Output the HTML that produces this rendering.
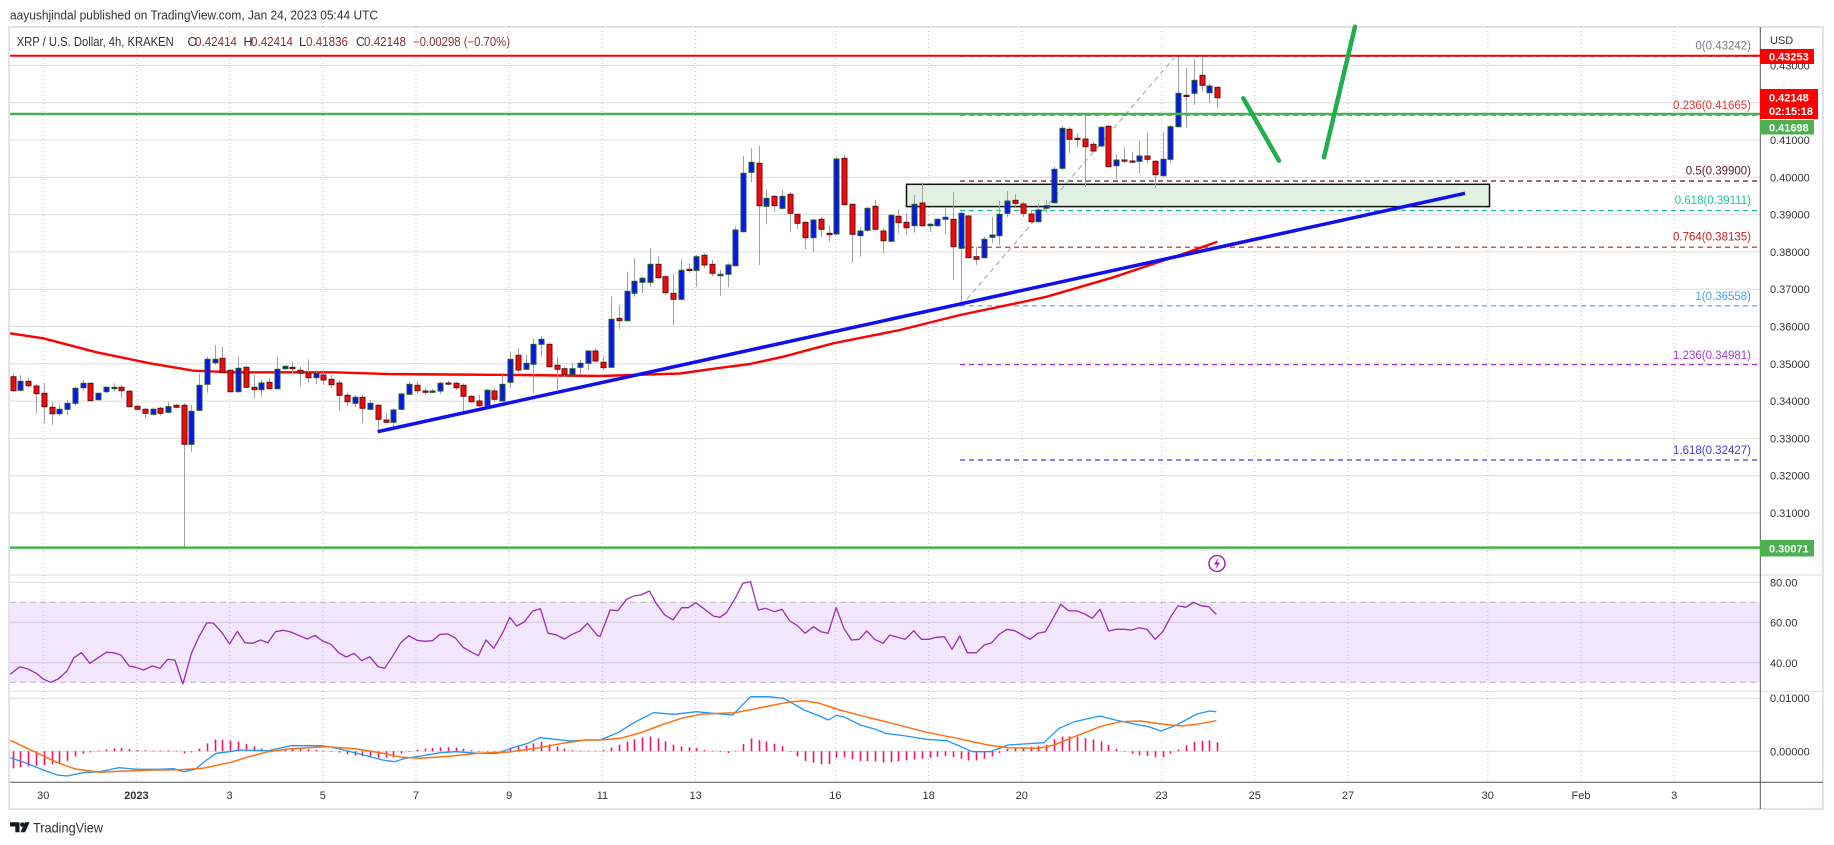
<!DOCTYPE html>
<html><head><meta charset="utf-8">
<style>
html,body{margin:0;padding:0;background:#fff;}
svg{display:block;font-family:"Liberation Sans",Arial,sans-serif;}
</style></head>
<body>
<svg id="root" width="1834" height="845" viewBox="0 0 1834 845" xmlns="http://www.w3.org/2000/svg">
<rect x="0" y="0" width="1834" height="845" fill="#fff"/>
<!-- header -->
<text x="10" y="19.5" font-size="13" fill="#333" textLength="368" lengthAdjust="spacingAndGlyphs">aayushjindal published on TradingView.com, Jan 24, 2023 05:44 UTC</text>
<!-- frame -->
<rect x="9" y="27" width="1814" height="782" fill="#fff" stroke="#e0e3eb" stroke-width="2"/>

<!-- main horizontal gridlines -->
<g stroke="#dcdcdc" stroke-width="1">
<line x1="10" x2="1760" y1="65.4" y2="65.4"/>
<line x1="10" x2="1760" y1="102.7" y2="102.7"/>
<line x1="10" x2="1760" y1="140" y2="140"/>
<line x1="10" x2="1760" y1="177.3" y2="177.3"/>
<line x1="10" x2="1760" y1="214.6" y2="214.6"/>
<line x1="10" x2="1760" y1="251.9" y2="251.9"/>
<line x1="10" x2="1760" y1="289.2" y2="289.2"/>
<line x1="10" x2="1760" y1="326.5" y2="326.5"/>
<line x1="10" x2="1760" y1="363.8" y2="363.8"/>
<line x1="10" x2="1760" y1="401.1" y2="401.1"/>
<line x1="10" x2="1760" y1="438.4" y2="438.4"/>
<line x1="10" x2="1760" y1="475.7" y2="475.7"/>
<line x1="10" x2="1760" y1="513" y2="513"/>
<line x1="10" x2="1760" y1="550.3" y2="550.3"/>
</g>

<!-- RSI pane -->
<rect x="10" y="602.3" width="1750" height="80" fill="#f2e7fc"/>
<g stroke="#dcdcdc" stroke-width="1">
<line x1="10" x2="1760" y1="582.3" y2="582.3"/>
<line x1="10" x2="1760" y1="698.3" y2="698.3"/>
<line x1="10" x2="1760" y1="751.3" y2="751.3"/>
</g>
<g stroke="#d2c6dd" stroke-width="1">
<line x1="10" x2="1760" y1="622.3" y2="622.3"/>
<line x1="10" x2="1760" y1="662.8" y2="662.8"/>
</g>
<g stroke="#b8b4c0" stroke-width="1" stroke-dasharray="6,4">
<line x1="10" x2="1760" y1="602.3" y2="602.3"/>
<line x1="10" x2="1760" y1="682.3" y2="682.3"/>
</g>
<!-- pane separators -->
<g stroke="#e3e1ea" stroke-width="1.2">
<line x1="10" x2="1823" y1="575" y2="575"/>
<line x1="10" x2="1823" y1="691.3" y2="691.3"/>
</g>

<!-- vertical dotted gridlines -->
<g stroke="#c4c4c4" stroke-width="1" stroke-dasharray="1,3">
<line x1="43.3" x2="43.3" y1="27" y2="782"/>
<line x1="136.4" x2="136.4" y1="27" y2="782"/>
<line x1="229.6" x2="229.6" y1="27" y2="782"/>
<line x1="322.8" x2="322.8" y1="27" y2="782"/>
<line x1="416" x2="416" y1="27" y2="782"/>
<line x1="509.2" x2="509.2" y1="27" y2="782"/>
<line x1="602.4" x2="602.4" y1="27" y2="782"/>
<line x1="695.6" x2="695.6" y1="27" y2="782"/>
<line x1="835.4" x2="835.4" y1="27" y2="782"/>
<line x1="928.6" x2="928.6" y1="27" y2="782"/>
<line x1="1021.8" x2="1021.8" y1="27" y2="782"/>
<line x1="1161.6" x2="1161.6" y1="27" y2="782"/>
<line x1="1254.8" x2="1254.8" y1="27" y2="782"/>
<line x1="1348" x2="1348" y1="27" y2="782"/>
<line x1="1487.8" x2="1487.8" y1="27" y2="782"/>
<line x1="1581" x2="1581" y1="27" y2="782"/>
<line x1="1674.2" x2="1674.2" y1="27" y2="782"/>
</g>

<!-- zone rectangle -->
<rect x="906.5" y="184.3" width="583" height="22.3" fill="#e2f2e2" stroke="#111" stroke-width="1.5"/>

<!-- fib levels -->
<g stroke-width="1.2" stroke-dasharray="5,4">
<line x1="960" x2="1760" y1="56.4" y2="56.4" stroke="#9598a1"/>
<line x1="960" x2="1760" y1="115.2" y2="115.2" stroke="#e53935"/>
<line x1="960" x2="1760" y1="181" y2="181" stroke="#5d1a35"/>
<line x1="960" x2="1760" y1="210.5" y2="210.5" stroke="#21c49a"/>
<line x1="960" x2="1760" y1="247.2" y2="247.2" stroke="#c91c1c"/>
<line x1="960" x2="1760" y1="305.8" y2="305.8" stroke="#4aa3df"/>
<line x1="960" x2="1760" y1="364.6" y2="364.6" stroke="#a43ad6"/>
<line x1="960" x2="1760" y1="460" y2="460" stroke="#4040d8"/>
</g>
<line x1="961" y1="306" x2="1174" y2="58" stroke="#9e9e9e" stroke-width="1" stroke-dasharray="5,4"/>
<g font-size="11.5" text-anchor="end">
<text x="1751" y="49.7" fill="#787b86">0(0.43242)</text>
<text x="1751" y="109" fill="#e53935">0.236(0.41665)</text>
<text x="1751" y="174.7" fill="#5d1a35">0.5(0.39900)</text>
<text x="1751" y="204" fill="#21c49a">0.618(0.39111)</text>
<text x="1751" y="240.7" fill="#c91c1c">0.764(0.38135)</text>
<text x="1751" y="300" fill="#4aa3df">1(0.36558)</text>
<text x="1751" y="359" fill="#a43ad6">1.236(0.34981)</text>
<text x="1751" y="454" fill="#4040d8">1.618(0.32427)</text>
</g>

<!-- moving average -->
<polyline fill="none" stroke="#ff0000" stroke-width="2.4" stroke-linejoin="round" points="10,333.3 43.3,338.3 96.7,352.3 150,363.3 193.3,370.7 233.3,372.3 333.3,372.3 386.7,374 450,374.5 520,375 600,376 680,373.5 716.7,368.3 750,364 783.3,356.7 833.3,343.3 900,330 960,315 1020,302.5 1046.7,296.7 1113.3,277.3 1180,255 1217.3,241.7"/>

<!-- candles -->
<g id="candles"></g>

<!-- horizontal lines -->
<line x1="10" x2="1760" y1="55.7" y2="55.7" stroke="#ff0000" stroke-width="2"/>
<line x1="10" x2="1760" y1="114" y2="114" stroke="#4caf50" stroke-width="2.5"/>
<line x1="10" x2="1760" y1="547.6" y2="547.6" stroke="#4caf50" stroke-width="2.5"/>

<!-- trendline -->
<line x1="377.7" y1="431.7" x2="1465" y2="193.3" stroke="#1010ee" stroke-width="3.5" stroke-linecap="butt"/>
<!-- green arrows -->
<g stroke="#22ad4e" stroke-width="4.5" stroke-linecap="round" fill="none">
<line x1="1243.3" y1="98.3" x2="1279" y2="160.7"/>
<line x1="1324" y1="157.3" x2="1355" y2="26.7"/>
</g>

<!-- legend line 2 -->
<g font-size="12.5">
<text x="16.7" y="46" fill="#333" textLength="157" lengthAdjust="spacingAndGlyphs">XRP / U.S. Dollar, 4h, KRAKEN</text>
<text x="187.5" y="46" fill="#333">O</text>
<text x="195" y="46" fill="#8b2f2f" textLength="42" lengthAdjust="spacingAndGlyphs">0.42414</text>
<text x="243.5" y="46" fill="#333">H</text>
<text x="251" y="46" fill="#8b2f2f" textLength="42" lengthAdjust="spacingAndGlyphs">0.42414</text>
<text x="299" y="46" fill="#333">L</text>
<text x="306" y="46" fill="#8b2f2f" textLength="42" lengthAdjust="spacingAndGlyphs">0.41836</text>
<text x="356" y="46" fill="#333">C</text>
<text x="364" y="46" fill="#8b2f2f" textLength="42" lengthAdjust="spacingAndGlyphs">0.42148</text>
<text x="413" y="46" fill="#8b2f2f" textLength="97" lengthAdjust="spacingAndGlyphs">−0.00298 (−0.70%)</text>
</g>

<!-- lightning icon -->
<circle cx="1217" cy="563.5" r="8" fill="#fff" stroke="#9c27b0" stroke-width="1.5"/>
<path d="M1218.5,557.5 L1214,564.5 L1217,564.5 L1215.5,569.5 L1220,562.5 L1217,562.5 Z" fill="#9c27b0"/>

<!-- RSI line -->
<polyline fill="none" stroke="#9a2fb4" stroke-width="1.3" stroke-linejoin="round" points="10.3,674.3 19.9,666.7 28.7,669.3 36.4,673.3 43.2,679 50.5,682.3 58.2,679 67,671 73.9,657.7 81.5,652.7 89.9,663.3 98.7,657.3 106.4,652.3 113.7,652.7 120.9,655 129,666 135.9,667.3 143.5,670 152.3,666 160,668.3 167.6,659.3 174.9,660 182.9,684 191.4,653.3 199,636.7 206.7,623 213.2,623 221.2,631.7 229.6,644 237.3,631.3 244.9,642.7 252.6,643.3 260.6,640 267.9,642.7 275.5,631.7 283.2,630.3 290.9,632 298.5,635.3 307.3,639 315,635.3 322.6,641 331,644.3 338.7,652.7 346.3,657 354,653.3 361.7,660.7 369.7,656.7 378.1,666.7 384.6,668.3 393,655.7 400.7,642.7 408.7,635.7 417.1,640.3 424.8,641.3 432.5,640.7 440.1,634.3 447.8,634 455.4,638 463.1,647.3 470.7,651.7 478.4,655.7 486,640 493.7,648.3 502.1,634 509.8,617.3 516.6,626 524.3,622 532.7,611 540.4,608.7 548,633.3 555.7,634.7 564.5,639 572.1,634.3 579.8,631 587.4,623.3 597,635 600,636.7 610.2,610 617.9,610.7 626.5,599.3 634.7,595.7 640.8,595 649.5,591 656.1,603.3 664.8,615 673,620 681.6,607.7 688.3,607.7 695.9,602.7 704.6,609.3 713.3,616 719.9,617.3 726.5,612.7 735.2,598.3 742.9,583.3 750.5,581.7 758.2,610 765.8,608.3 774.5,611.7 782.1,609.3 789.8,621 797.4,625.7 805.1,633.3 813.3,626.7 820.9,631.7 828.1,633.3 836.2,607.7 843.9,628.3 851.5,640 859.2,639.3 866.8,631 874.5,639.3 883.2,643.3 889.8,635 897.4,637.3 905.1,639.3 913.8,630.7 921.4,639.3 929.1,639.3 936.7,637.3 944.4,636.7 952,649.3 959.7,636 967.3,652.7 976.5,652.7 984.2,645 991.8,642.7 999.5,634 1007.1,629.3 1014.8,630.7 1022.4,635 1030.1,639.3 1037.8,633.3 1045.4,631.7 1053.1,618.3 1060.7,604.3 1068.4,610.7 1077,611 1084.7,614 1092.3,618.3 1100,609.3 1108.7,631 1116.3,629.3 1124,629.3 1131.6,630 1139.3,627.7 1146.9,629.3 1155.1,639.3 1162.8,631.7 1170.4,617.3 1178.1,605.7 1185.7,607.3 1193.4,602.3 1201,605.7 1208.7,606.7 1216.3,614.3"/>

<!-- MACD -->
<g id="hist"></g>
<polyline id="macd" fill="none" stroke="#2196f3" stroke-width="1.3" stroke-linejoin="round" points="10.3,757.7 26.8,763.3 43.2,770 57.4,775 67,776 82.3,772.7 99.5,771.7 118.6,767.7 137.8,769.3 160.7,769.3 174.1,768.7 183.7,771.7 195.2,769.3 206.7,760 216.2,753.3 229.6,751.7 239.2,750 267.9,750.7 290.9,745.7 321.5,745.7 336.8,748.3 363.6,755 382.7,760 394.2,761.7 405.7,758.3 421,756 440.1,752.7 455.4,751.7 478.4,753.3 497.5,753.3 512.8,747.7 528.1,743.3 539.6,737.7 554.9,739.3 570.2,741 585.5,740 600,740 617.9,732.7 635.7,721.7 653.6,712.7 674,714.3 696.9,711.7 712.2,713.3 732.7,715 750.5,696.7 768.4,696.7 783.7,698.3 804.1,710 819.4,716 828.6,720 836.2,715.3 844.9,717.3 860.2,725 875.5,729.3 885.7,733.3 906.1,736 926.5,739.3 946.9,740.7 957.1,745 972.4,751.7 990.3,751.7 1008.2,745 1023.5,744 1043.9,742.7 1059.2,728.3 1074.5,721.7 1089.8,718.3 1100,716 1115.3,720 1135.7,724.3 1148.5,726.7 1161.2,731 1176.5,725 1196.9,714 1209.7,711 1216.3,711.7"/>
<polyline id="sig" fill="none" stroke="#ff7010" stroke-width="1.5" stroke-linejoin="round" points="10.3,740.3 34.4,751.7 57.4,762.7 76.5,769.3 99.5,772.3 126.3,771 153.1,770 179.9,769.7 202.8,768.3 229.6,762.7 248.8,756.7 267.9,751.7 290.9,748.7 325.3,746.7 355.9,748.7 382.7,753.3 401.8,757.3 421,758.3 451.6,756 478.4,753.3 509,752 535.8,748.3 562.6,743.3 585.5,740 600,740 620.4,738.3 640.8,732.7 661.2,725 681.6,718.3 702,714 735.2,712.7 753.1,709.3 773.5,705 791.3,701.7 804.1,700.7 819.4,703.3 839.8,710 865.3,716.7 895.9,724.3 926.5,732.3 957.1,738.3 987.8,745 1008.2,747.7 1038.8,748.3 1054.1,745 1074.5,736.7 1100,726.7 1120.4,721.7 1140.8,721 1161.2,724 1181.6,726 1196.9,724.3 1216.3,720.7"/>

<!-- axes lines -->
<line x1="10" x2="1823" y1="782.3" y2="782.3" stroke="#555" stroke-width="1"/>
<line x1="1760.3" x2="1760.3" y1="27" y2="809" stroke="#555" stroke-width="1"/>

<!-- price axis labels -->
<g font-size="11" fill="#333">
<text x="1770" y="44">USD</text>
<text x="1770" y="69.4">0.43000</text>
<text x="1770" y="106.7">0.42000</text>
<text x="1770" y="144">0.41000</text>
<text x="1770" y="181.3">0.40000</text>
<text x="1770" y="218.6">0.39000</text>
<text x="1770" y="255.9">0.38000</text>
<text x="1770" y="293.2">0.37000</text>
<text x="1770" y="330.5">0.36000</text>
<text x="1770" y="367.8">0.35000</text>
<text x="1770" y="405.1">0.34000</text>
<text x="1770" y="442.4">0.33000</text>
<text x="1770" y="479.7">0.32000</text>
<text x="1770" y="517">0.31000</text>
<text x="1770" y="554.3">0.30000</text>
<text x="1770" y="586.3">80.00</text>
<text x="1770" y="626.3">60.00</text>
<text x="1770" y="667">40.00</text>
<text x="1770" y="702">0.01000</text>
<text x="1770" y="755.3">0.00000</text>
</g>

<!-- price tags -->
<rect x="1760" y="49" width="54" height="15" fill="#ff0000"/>
<rect x="1760" y="89" width="58" height="30" fill="#ff0000"/>
<rect x="1760" y="120" width="54" height="14.5" fill="#4caf50"/>
<rect x="1760" y="540" width="54" height="16.5" fill="#4caf50"/>
<g font-size="11" fill="#fff" font-weight="bold">
<text x="1769" y="60.5">0.43253</text>
<text x="1769" y="101.5">0.42148</text>
<text x="1769" y="115">02:15:18</text>
<text x="1769" y="131.3">0.41698</text>
<text x="1769" y="552.3">0.30071</text>
</g>

<!-- date labels -->
<g font-size="11" fill="#333" text-anchor="middle">
<text x="43.3" y="799">30</text>
<text x="136.4" y="799" font-weight="bold">2023</text>
<text x="229.6" y="799">3</text>
<text x="322.8" y="799">5</text>
<text x="416" y="799">7</text>
<text x="509.2" y="799">9</text>
<text x="602.4" y="799">11</text>
<text x="695.6" y="799">13</text>
<text x="835.4" y="799">16</text>
<text x="928.6" y="799">18</text>
<text x="1021.8" y="799">20</text>
<text x="1161.6" y="799">23</text>
<text x="1254.8" y="799">25</text>
<text x="1348" y="799">27</text>
<text x="1487.8" y="799">30</text>
<text x="1581" y="799">Feb</text>
<text x="1674.2" y="799">3</text>
</g>

<!-- TradingView logo -->
<path d="M10,822.3 h9.5 v10 h-4.2 v-5.8 h-5.3 z" fill="#131722"/>
<circle cx="22.3" cy="824.6" r="2.2" fill="#131722"/>
<path d="M25,822.3 h4.6 l-4.6,10 h-4.6 z" fill="#131722"/>
<text x="33" y="832.5" font-size="13.5" fill="#333" textLength="70" lengthAdjust="spacingAndGlyphs">TradingView</text>
</svg>
<script>
(function(){
var C=[
[376.7,390.7,374,391.7,0],[381.3,390.3,375,391,1],[381.3,385.7,378.3,388.3,0],[386,393.7,383.3,413.3,0],[393.3,406.7,383.3,423.3,0],
[407.3,413.7,401.7,425,0],[409.3,413.7,405,415.7,1],[403.3,409.3,400,415,1],[388.3,403.3,386.7,405.7,1],[383.3,387.7,380,390.7,1],
[383.3,400.7,382.7,401.3,0],[393.3,399.7,392.7,400.3,1],[387.3,391.7,386,393.3,1],[387.3,388.7,383.3,391.7,1],[387.3,390.7,385,398.3,0],
[391.3,406.7,390,407.3,0],[406.3,409.3,405,410,0],[409.3,413.3,408.3,418.7,0],[409.3,414.3,407.3,415,1],[408.3,413.3,406.7,415.7,0],
[406.7,412.3,401.7,413.3,1],[405.3,407.3,404,408.3,0],[405.3,444.3,403.3,546.7,0],[411.3,444.3,405,451.7,1],[385.3,410.3,373.3,411,1],
[359.3,384.3,356.7,392.7,1],[359.3,362.7,345,365,1],[358.3,372.7,346.7,373.3,0],[370.3,391.7,369.3,392.7,0],[368.3,391.7,356.7,392.7,1],
[367.3,387.3,366,388.3,0],[387.3,389.7,375,398.3,0],[383,389.7,380,396.7,1],[382.3,388.7,378.3,389.3,0],[369.3,388.7,356.7,389.3,1],
[366.3,368.7,365,370,1],[367.3,368.7,361.7,373.3,0],[370.3,373.3,366.7,385.7,0],[373.3,377.7,359.3,382.7,0],[373.3,377.7,370,384.3,1],
[375,380,370,385,0],[379.3,384.7,375,387.7,0],[383,395.3,380,410.7,0],[395.3,401.7,392.7,406,0],[397.3,403.3,395,407.3,1],
[397.3,408.3,395,423.3,0],[403.3,409.3,400,410.7,1],[405.3,419.3,404,431.7,0],[420,422.3,413.3,423.3,0],[410,422.3,408.3,426,1],
[394,409.3,392.7,410,1],[384.3,394.3,381.7,395,1],[385.3,390.7,381.7,394,0],[391,392.3,388.3,395,0],[391,392.3,389,393.3,1],
[383.3,391,381.7,394,1],[383,383.7,380.7,385,0],[383.3,387.7,381.7,390,0],[385.3,396.3,383.3,414,0],[396.3,401.7,395.3,402.7,0],
[401,405.7,395,406.7,0],[390.3,405.7,389,406.7,1],[391,399.3,388.3,401.7,0],[384.3,401,375,401.7,1],[359.3,382.3,351.7,387.7,1],
[355.3,370,348.3,372.7,0],[363.3,369.3,355,370,1],[344.3,364.3,338.3,393.3,1],[339.3,344.3,336.7,356.7,1],[344.3,366.7,343.3,367.3,0],
[365.3,369.3,356.7,390,0],[368.7,374.3,367.3,376.7,0],[368.7,374.3,363.3,375,1],[363.3,367.3,360,375,1],[351,363.3,350,370,1],
[351,361,348.3,361.7,0],[362.3,367.7,356.7,370,0],[319.3,367.3,296.7,368.3,1],[318.3,320.7,305,329,0],[291.3,320.7,271.7,321.7,1],
[281.3,293.3,258.3,296.7,1],[278.3,282.3,276.7,293.3,1],[264.3,282.3,248.3,286.7,1],[264.3,277.7,256.7,278.3,0],[276.7,292.7,275,295,0],
[293.3,299.3,273.3,325,0],[270.3,299.3,259.3,300.7,1],[269.3,270.3,263.3,272.7,0],[256.7,270.3,255,286.7,1],[255.3,265,253.3,268.3,0],
[264.3,273.3,260,276,0],[274.3,275.7,270,295.7,1],[265,274.3,263.3,287.3,1],[230,265.7,226.7,266.7,1],[173.3,231.7,156,232.3,1],
[162.3,172.3,148.3,182.3,1],[163.3,205.7,146,265,0],[198.3,206.3,189.3,224.3,1],[196.3,205.7,195,211.7,0],[196.3,208.3,190,210,1],
[194.3,213.3,192.3,232.3,0],[214.3,223.3,213.3,229,0],[222.3,237.7,221.7,249.3,0],[220,237.7,219,251.7,1],[219.3,229.3,216.7,237.3,0],
[233.3,234.7,225,241.7,0],[159,234,156.7,234.7,1],[158.3,204.7,155,205.3,0],[204.3,234.3,203.3,262.7,0],[231,235.7,226.7,256.7,1],
[208.3,230.3,206.7,231.7,1],[206.3,229.3,200,230,0],[231,240.7,228.3,253.3,0],[215.3,241.3,214,242,1],[216.3,222.7,209.3,233.3,0],
[222.3,227.7,212.7,235,0],[204.3,225.7,195,232.7,1],[203,225.7,182.3,226.7,0],[224.3,225.7,222.7,231.7,1],[219.3,225.7,218.3,226.7,1],
[217.3,219.3,208.7,234.3,1],[219.3,246.7,191.7,280,0],[213.3,248.3,211.7,305,1],[216,257.7,215,258.3,0],[256.7,259.3,246.7,265,0],
[239.3,257.7,236.7,258.3,1],[235,237.3,216.7,243.3,1],[214.3,235.7,200.7,245,1],[201,213.3,191,217.3,1],[200.3,203.3,194,206.7,0],
[204,213.3,201.7,217.3,0],[214,221.7,210,223.3,0],[210,221.7,203.3,222.3,1],[205.7,208.3,200,213.3,1],[169.3,202.7,166.7,203.3,1],
[128.3,168.3,126,170,1],[129.3,139.3,127.3,153.3,0],[138.3,139.3,133.3,146.7,0],[139,146.7,115,186.7,0],[144.3,151,141.7,151.7,0],
[127.3,146,126,146.7,1],[126.3,166.7,125,167.3,0],[160,165.7,155,179.3,1],[160,161,147.3,163.3,0],[161,162,151.7,163.3,0],
[156,161.3,140.7,173.3,1],[156,159.3,132.7,163.3,0],[161.3,174.7,160,188.3,0],[159.3,175.7,131.7,176.7,1],[126.7,159.3,125,163.3,1],
[93.3,126.7,56,127.3,1],[95.3,96.3,68.3,127.3,0],[80.3,93.3,59.3,105,1],[75.3,85.3,55.5,91,0],[86,92.7,83.3,103.3,1],
[87.3,97.7,86.7,108.3,0]
];
var s='';
for(var i=0;i<C.length;i++){
  var c=C[i];var x=12.7+i*7.77;var cx=Math.round(x);
  s+='<line x1="'+(cx+0.5)+'" y1="'+c[2]+'" x2="'+(cx+0.5)+'" y2="'+c[3]+'" stroke="#a0a0a0" stroke-width="1"/>';
  var h=Math.max(c[1]-c[0],1.2);
  s+='<rect x="'+(cx-2)+'" y="'+c[0]+'" width="5" height="'+h+'" fill="'+(c[4]?'#0a14f0':'#f00a0a')+'" stroke="'+(c[4]?'#1d5c23':'#6e0d0d')+'" stroke-width="1"/>';
}
document.getElementById('candles').innerHTML=s;
function pts(id){return document.getElementById(id).getAttribute('points').trim().split(/\s+/).map(function(p){var a=p.split(',');return [parseFloat(a[0]),parseFloat(a[1])];});}
function interp(P,x){if(x<=P[0][0])return P[0][1];for(var i=1;i<P.length;i++){if(x<=P[i][0]){var a=P[i-1],b=P[i];return a[1]+(b[1]-a[1])*(x-a[0])/(b[0]-a[0]);}}return P[P.length-1][1];}
var M=pts('macd'),S=pts('sig');var h2='';
for(var j=0;j<C.length;j++){
  var xx=Math.round(12.7+j*7.77)+0.5;var d=interp(S,xx)-interp(M,xx);
  if(Math.abs(d)<0.6)d=d<0?-0.6:0.6;
  h2+='<line x1="'+xx+'" x2="'+xx+'" y1="751.3" y2="'+(751.3-d)+'" stroke="#f2146a" stroke-width="1.6"/>';
}
document.getElementById('hist').innerHTML=h2;
})();
</script>
</body></html>
